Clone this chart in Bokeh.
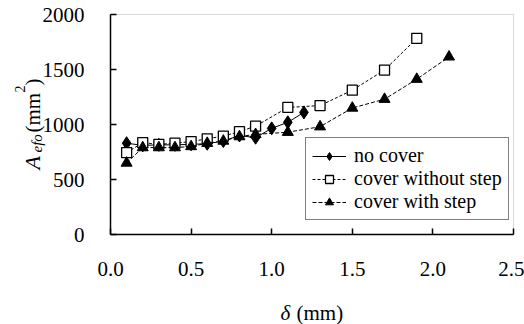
import math
from bokeh.plotting import figure
from bokeh.models import Legend, LegendItem, Label, FixedTicker, Range1d, BoxAnnotation
from bokeh.embed import file_html
from bokeh.resources import INLINE

# data
x_nc = [0.1, 0.2, 0.3, 0.4, 0.5, 0.6, 0.7, 0.8, 0.9, 1.0, 1.1, 1.2]
y_nc = [830, 810, 815, 815, 820, 825, 850, 900, 880, 965, 1020, 1110]

x_ws = [0.1, 0.2, 0.3, 0.4, 0.5, 0.6, 0.7, 0.8, 0.9, 1.1, 1.3, 1.5, 1.7, 1.9]
y_ws = [745, 835, 820, 830, 845, 870, 895, 935, 985, 1155, 1172, 1312, 1495, 1783]

x_st = [0.1, 0.2, 0.3, 0.4, 0.5, 0.6, 0.7, 0.8, 0.9, 1.1, 1.3, 1.5, 1.7, 1.9, 2.1]
y_st = [650, 790, 790, 790, 800, 830, 850, 890, 910, 930, 980, 1150, 1230, 1412, 1615]

x_ticks = [0.0, 0.5, 1.0, 1.5, 2.0, 2.5]
y_ticks = [0, 500, 1000, 1500, 2000]
names = ["no cover", "cover without step", "cover with step"]

FONT = "Liberation Serif"
W, H = 524, 324
FL, FR, FT, FB = 110, 513, 14, 234  # where the axes box sits on the page
X0, X1 = x_ticks[0], x_ticks[-1]
Y0, Y1 = y_ticks[0], y_ticks[-1]

# the frame fills the canvas; the ranges are widened so the axes box lands at FL..FR / FT..FB
kx = (X1 - X0) / (FR - FL)
ky = (Y1 - Y0) / (FB - FT)
p = figure(width=W, height=H, output_backend="svg", toolbar_location=None,
           x_range=Range1d(X0 - FL * kx, X1 + (W - FR) * kx),
           y_range=Range1d(Y0 - (H - FB) * ky, Y1 + FT * ky),
           min_border=0)
p.xgrid.visible = False
p.ygrid.visible = False
p.outline_line_color = None
p.background_fill_color = "white"
p.border_fill_color = "white"

for ax in (p.xaxis, p.yaxis):
    ax.fixed_location = 0
    ax.axis_line_color = "black"
    ax.axis_line_width = 1.5
    ax.major_tick_in = 6
    ax.major_tick_out = 0
    ax.major_tick_line_width = 1.5
    ax.minor_tick_line_color = None
    ax.major_tick_line_color = "black"
    ax.major_label_text_font = FONT
    ax.major_label_text_font_size = "21px"
    ax.major_label_text_color = "black"

p.xaxis.bounds = (X0, X1)
p.yaxis.bounds = (Y0, Y1)
p.xaxis.ticker = FixedTicker(ticks=x_ticks)
p.yaxis.ticker = FixedTicker(ticks=y_ticks)
p.xaxis.major_label_overrides = {t: f"{t:.1f}" for t in x_ticks}
p.xaxis.major_label_standoff = 27
p.yaxis.major_label_standoff = 26

# dotted top/right edges of the axes box
p.add_layout(BoxAnnotation(left=X0, right=X1, bottom=Y0, top=Y1,
                           fill_color=None, fill_alpha=0,
                           line_color="black", line_width=1, line_dash="1 1",
                           level="underlay"))

r1l = p.line(x_nc, y_nc, line_color="black", line_width=1)
r1m = p.scatter(x_nc, y_nc, marker="diamond", size=13, fill_color="black", line_color="black")
r2l = p.line(x_ws, y_ws, line_color="black", line_width=1, line_dash="3 2")
r2m = p.scatter(x_ws, y_ws, marker="square", size=10, fill_color="white", line_color="black", line_width=1.3)
r3l = p.line(x_st, y_st, line_color="black", line_width=1, line_dash="4 2")
r3m = p.scatter(x_st, y_st, marker="triangle", size=11, fill_color="black", line_color="black")

legend = Legend(items=[LegendItem(label=names[0], renderers=[r1l, r1m]),
                       LegendItem(label=names[1], renderers=[r2l, r2m]),
                       LegendItem(label=names[2], renderers=[r3l, r3m])],
                location=(305, H - 220))
legend.border_line_color = "black"
legend.border_line_width = 1.5
legend.background_fill_color = "white"
legend.background_fill_alpha = 1
legend.padding = 6
legend.spacing = -2
legend.margin = 0
legend.glyph_width = 34
legend.glyph_height = 20
legend.label_height = 20
legend.label_standoff = 8
legend.label_text_font = FONT
legend.label_text_font_size = "20px"
legend.label_text_color = "black"
legend.label_text_baseline = "middle"
p.add_layout(legend, "center")

# canvas units: page pixel coordinates from the top-left corner
def lab(text, px, py, size, style="normal", angle=0.0):
    p.add_layout(Label(x=px, y=py, x_units="canvas", y_units="canvas",
                       text=text, text_font=FONT, text_font_size=size,
                       text_font_style=style, angle=angle, text_align="left",
                       text_baseline="alphabetic", text_color="black"))

A = math.pi / 2
# y axis label pieces (rotated)
lab("A", 32, 169, "22px", "italic", A)
lab("efo", 36, 152, "15px", "italic", A)
lab("(mm", 32, 132, "21px", "normal", A)
lab("2", 19, 92, "14px", "normal", A)
lab(")", 32, 85, "21px", "normal", A)

# x axis label
lab("\u03b4", 280, 312, "21px", "italic")
lab("(mm)", 296, 312, "21px", "normal")

open("out.html", "w").write(file_html(p, INLINE))
